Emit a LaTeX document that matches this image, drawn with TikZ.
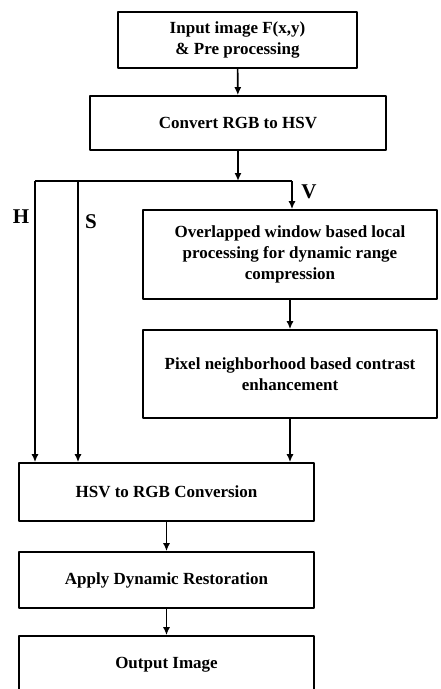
\documentclass[tikz,border=0pt]{standalone}
\usepackage{fontspec}
\setmainfont{Liberation Serif}
\usetikzlibrary{arrows.meta}
\usetikzlibrary{positioning}

\tikzset{
  stagebox/.style={draw,line width=1.6pt,align=center,font=\fontsize{17}{21}\selectfont\bfseries,inner sep=0pt},
  chanlabel/.style={font=\fontsize{21}{24}\selectfont\bfseries,inner sep=0pt},
}

\begin{document}
\begin{tikzpicture}[x=1pt,y=-1pt,line join=round,line width=1.6pt,>={Latex[length=8pt,width=7pt]}]
\useasboundingbox (0,0) rectangle (440,689);

\node[stagebox,minimum width=239pt,minimum height=56pt] (input) at (237.5,40) {Input image F(x,y)\\ \& Pre processing};
\node[stagebox,minimum width=296pt,minimum height=54pt] (conv) at (238,123) {Convert RGB to HSV};
\node[stagebox,minimum width=294pt,minimum height=89pt] (local) at (290,254.5) {Overlapped window based local\\ processing for dynamic range\\ compression};
\node[stagebox,minimum width=294pt,minimum height=88pt] (contrast) at (290,374) {Pixel neighborhood based contrast\\ enhancement};
\node[stagebox,minimum width=295pt,minimum height=58pt] (hsvrgb) at (166.5,492) {HSV to RGB Conversion};
\node[stagebox,minimum width=295pt,minimum height=56pt] (restore) at (166.5,580) {Apply Dynamic Restoration};
\node[stagebox,minimum width=295pt,minimum height=58pt] (output) at (166.5,665) {Output Image};

% split into H, S and V
\coordinate (split) at (238,181);
\coordinate (htop) at (35,181);
\coordinate (stop) at (78,181);
\coordinate (vtop) at (292,181);

\draw[->] (input) -- (conv);
\draw[->] (conv) -- (split);
\draw (htop) -- (vtop);
\draw[->] (htop) -- (htop |- hsvrgb.north);
\draw[->] (stop) -- (stop |- hsvrgb.north);
\draw[->] (vtop) -- (vtop |- local.north);
\draw[->] (local) -- (contrast);
\draw[->] (contrast) -- (contrast.south |- hsvrgb.north);
\draw[->] (hsvrgb) -- (restore);
\draw[->] (restore) -- (output);

\node[chanlabel] (H) at (21,217) {H};
\node[chanlabel] (S) at (91,222) {S};
\node[chanlabel] (V) at (309,192) {V};
\end{tikzpicture}
\end{document}
